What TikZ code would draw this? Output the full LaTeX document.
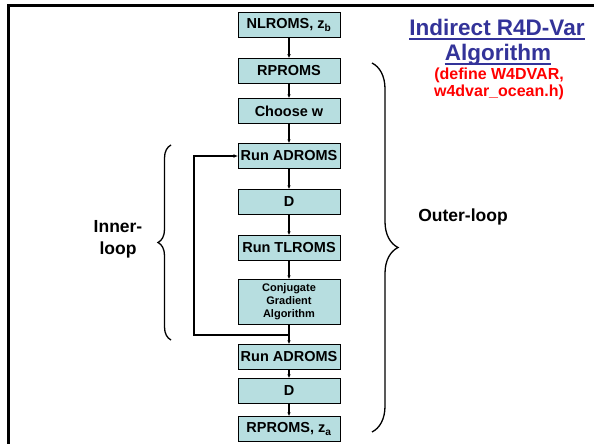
\documentclass[tikz,border=0pt]{standalone}
\usepackage{fontspec}
\setmainfont{Liberation Sans}
\usepackage{xcolor}
\usetikzlibrary{positioning,arrows.meta,decorations.pathreplacing}
\definecolor{boxfill}{RGB}{183,222,224}
\definecolor{titleblue}{RGB}{51,51,153}
\tikzset{
  stepbox/.style={draw, line width=0.9pt, fill=boxfill, minimum width=102pt, minimum height=25.5pt, inner sep=0pt, outer sep=0pt, font=\bfseries\fontsize{14.5}{16}\selectfont},
  flow/.style={line width=1.2pt, -{Latex[length=4pt,width=3.5pt]}},
  loopline/.style={line width=1.8pt, -{Latex[length=4.5pt,width=4pt]}},
  bracket/.style={decorate, line width=1.3pt, decoration={brace, amplitude=#1}},
  bigtext/.style={font=\bfseries\fontsize{17.5}{22}\selectfont, align=center},
}
\begin{document}
\begin{tikzpicture}[x=1pt,y=1pt]
\useasboundingbox (0,0) rectangle (594,-444);
\draw[line width=3.5pt] (8.5,-444) -- (8.5,-5.5) -- (594,-5.5);

    \node[stepbox] (nl) at (289,-25) {NLROMS, z\textsubscript{b}};
    \node[stepbox, below=20.5pt of nl] (rp) {RPROMS};
    \node[stepbox, below=14.5pt of rp] (cw) {Choose w};
    \node[stepbox, below=19.5pt of cw] (ad) {Run ADROMS};
    \node[stepbox, below=20.5pt of ad] (d) {D};
    \node[stepbox, below=20.5pt of d] (tl) {Run TLROMS};
    \node[stepbox, below=18.5pt of tl, minimum height=45pt, align=center,
          font=\bfseries\fontsize{11}{13.3}\selectfont] (cg) {Conjugate\\Gradient\\Algorithm};
    \node[stepbox, below=20pt of cg] (ad2) {Run ADROMS};
    \node[stepbox, below=8.5pt of ad2] (d2) {D};
    \node[stepbox, below=12.5pt of d2] (rpa) {RPROMS, z\textsubscript{a}};
    \coordinate[below=10.5pt of cg] (lj);
    \coordinate[left=95pt of lj] (lc);

\foreach \a/\b in {nl/rp, rp/cw, cw/ad, ad/d, d/tl, tl/cg, cg/ad2, ad2/d2, d2/rpa}
    \draw[flow] (\a) -- (\b);
\draw[loopline] (lj) -- (lc) |- (ad);

% braces
\draw[bracket=13] (171,-340) -- (171,-145);
\draw[bracket=26] (372,-63) -- (372,-432);
\node[bigtext] (inner) at (118,-239.5) {Inner-\\loop};
\node[bigtext] (outer) at (463,-217) {Outer-loop};

% title
\node[anchor=base, inner sep=0pt, text=titleblue, font=\bfseries\fontsize{22.5}{27}\selectfont] (t1) at (497,-36) {Indirect R4D-Var};
\node[anchor=base, inner sep=0pt, text=titleblue, font=\bfseries\fontsize{22.5}{27}\selectfont] (t2) at (498,-61) {Algorithm};
\draw[titleblue, line width=2pt] ([yshift=-3.5pt]t1.base west) -- ([yshift=-3.5pt]t1.base east);
\draw[titleblue, line width=2pt] ([yshift=-3.5pt]t2.base west) -- ([yshift=-3.5pt]t2.base east);
\node[anchor=base, inner sep=0pt, text=red, font=\bfseries\fontsize{16}{19}\selectfont] (r1) at (499,-80) {(define W4DVAR,};
\node[anchor=base, inner sep=0pt, text=red, font=\bfseries\fontsize{16}{19}\selectfont] (r2) at (499,-96) {w4dvar\_ocean.h)};
\end{tikzpicture}
\end{document}
